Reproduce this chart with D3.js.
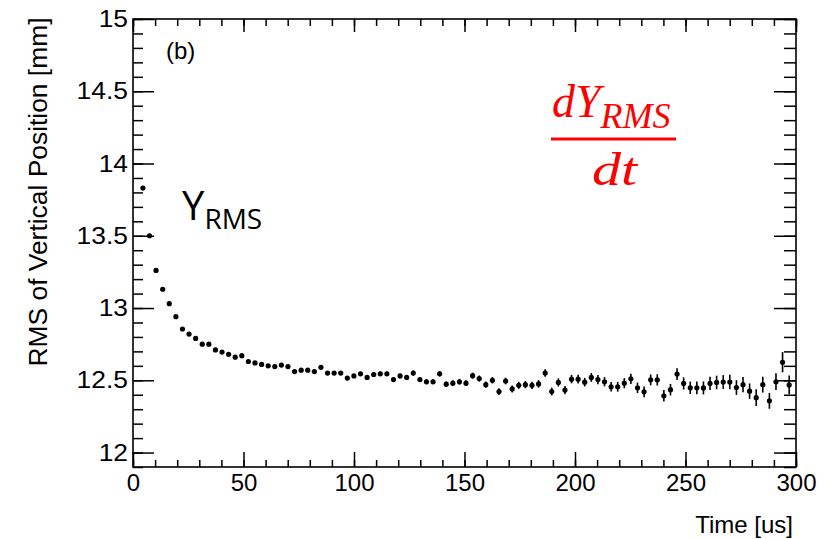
<!DOCTYPE html>
<html><head><meta charset="utf-8">
<script src="https://cdn.jsdelivr.net/npm/d3@7/dist/d3.min.js"></script>
<style>body{margin:0;background:#fff}</style>
</head><body>
<svg id="c" width="838" height="539"></svg>
<script>
// bin centres [us]
const times = [4.48,7.46,10.44,13.43,16.41,19.40,22.38,25.36,28.35,31.33,
  34.32,37.30,40.28,43.27,46.25,49.24,52.22,55.20,58.19,61.17,
  64.16,67.14,70.12,73.11,76.09,79.08,82.06,85.04,88.03,91.01,
  94.00,96.98,99.96,102.95,105.93,108.92,111.90,114.88,117.87,120.85,
  123.84,126.82,129.80,132.79,135.77,138.76,141.74,144.72,147.71,150.69,
  153.68,156.66,159.64,162.63,165.61,168.60,171.58,174.56,177.55,180.53,
  183.52,186.50,189.48,192.47,195.45,198.44,201.42,204.40,207.39,210.37,
  213.36,216.34,219.32,222.31,225.29,228.28,231.26,234.24,237.23,240.21,
  243.20,246.18,249.16,252.15,255.13,258.12,261.10,264.08,267.07,270.05,
  273.04,276.02,279.00,281.99,284.97,287.96,290.94,293.92,296.91];
// RMS of vertical position [mm]
const rmsValues = [13.83,13.50,13.26,13.13,13.03,12.94,12.855,12.82,12.79,12.75,
  12.75,12.71,12.695,12.68,12.66,12.67,12.63,12.62,12.61,12.60,
  12.595,12.605,12.595,12.56,12.57,12.57,12.56,12.59,12.55,12.55,
  12.55,12.515,12.53,12.545,12.52,12.54,12.545,12.545,12.505,12.53,
  12.52,12.55,12.505,12.49,12.49,12.545,12.473,12.48,12.49,12.48,
  12.532,12.512,12.47,12.50,12.422,12.495,12.44,12.465,12.47,12.465,
  12.475,12.55,12.422,12.485,12.432,12.508,12.508,12.487,12.52,12.505,
  12.49,12.455,12.455,12.48,12.51,12.448,12.42,12.503,12.503,12.393,
  12.435,12.543,12.478,12.448,12.448,12.447,12.478,12.485,12.488,12.488,
  12.45,12.47,12.425,12.38,12.47,12.358,12.49,12.625,12.468];
// error on RMS [mm]
const rmsErrors = [0.007,0.007,0.007,0.007,0.007,0.008,0.008,0.008,0.008,0.008,
  0.008,0.009,0.009,0.009,0.009,0.009,0.010,0.010,0.010,0.010,
  0.011,0.011,0.011,0.011,0.012,0.012,0.012,0.012,0.013,0.013,
  0.013,0.014,0.014,0.014,0.014,0.015,0.015,0.015,0.016,0.016,
  0.017,0.017,0.017,0.018,0.018,0.018,0.019,0.019,0.020,0.020,
  0.021,0.021,0.022,0.022,0.023,0.023,0.024,0.024,0.025,0.025,
  0.026,0.026,0.027,0.028,0.028,0.029,0.030,0.030,0.031,0.032,
  0.032,0.033,0.034,0.035,0.035,0.036,0.037,0.038,0.039,0.040,
  0.040,0.041,0.042,0.043,0.044,0.045,0.046,0.047,0.048,0.050,
  0.051,0.052,0.053,0.058,0.055,0.055,0.058,0.070,0.065];
const xTicks = [0,50,100,150,200,250,300];
const xTickLabels = ["0","50","100","150","200","250","300"];
const yTicks = [12,12.5,13,13.5,14,14.5,15];
const yTickLabels = ["12","12.5","13","13.5","14","14.5","15"];
const xMinorTicks = d3.range(0, 301, 10);
const yMinorTicks = d3.range(119, 151, 1).map(v => v / 10);
const yTitle = "RMS of Vertical Position [mm]";
const xTitle = "Time [us]";
const panelLabel = "(b)";

const svg = d3.select("#c");
svg.append("rect").attr("width",838).attr("height",539).attr("fill","#fff");
const L=133, R=796, T=19, B=467;
const x = d3.scaleLinear().domain([0,300]).range([L,R]);
const y = d3.scaleLinear().domain([11.9,15]).range([B,T]);
const font = "'Liberation Sans', Arial, sans-serif";

function strip(g){ g.select(".domain").remove(); g.selectAll("line").attr("stroke","#000").attr("stroke-width",1.5); }

// bottom
svg.append("g").attr("transform",`translate(0,${B})`)
  .call(d3.axisBottom(x).tickValues(xMinorTicks).tickSize(-7).tickFormat("")).call(strip);
const gx = svg.append("g").attr("transform",`translate(0,${B})`)
  .call(d3.axisBottom(x).tickValues(xTicks).tickSize(-15).tickPadding(7)
    .tickFormat((d,i)=>xTickLabels[i])).call(strip);
gx.selectAll("text").attr("font-family",font).attr("font-size",24).attr("fill","#000");
// top
svg.append("g").attr("transform",`translate(0,${T})`)
  .call(d3.axisTop(x).tickValues(xMinorTicks).tickSize(-7).tickFormat("")).call(strip);
svg.append("g").attr("transform",`translate(0,${T})`)
  .call(d3.axisTop(x).tickValues(xTicks).tickSize(-13).tickFormat("")).call(strip);
// left
svg.append("g").attr("transform",`translate(${L},0)`)
  .call(d3.axisLeft(y).tickValues(yMinorTicks).tickSize(-10).tickFormat("")).call(strip);
const gy = svg.append("g").attr("transform",`translate(${L},0)`)
  .call(d3.axisLeft(y).tickValues(yTicks).tickSize(-21).tickPadding(5)
    .tickFormat((d,i)=>yTickLabels[i])).call(strip);
gy.selectAll("text").attr("font-family",font).attr("font-size",24).attr("fill","#000")
  .each(function(){ const w=this.getComputedTextLength();
    d3.select(this).attr("textLength",w*1.1).attr("lengthAdjust","spacingAndGlyphs"); });
// right
svg.append("g").attr("transform",`translate(${R},0)`)
  .call(d3.axisRight(y).tickValues(yMinorTicks).tickSize(-12).tickFormat("")).call(strip);
svg.append("g").attr("transform",`translate(${R},0)`)
  .call(d3.axisRight(y).tickValues(yTicks).tickSize(-22).tickFormat("")).call(strip);

// frame
svg.append("rect").attr("x",L).attr("y",T).attr("width",R-L).attr("height",B-T)
  .attr("fill","none").attr("stroke","#000").attr("stroke-width",1.6);

// data
const pts = times.map((t,i)=>({t, v:rmsValues[i], e:rmsErrors[i]}));
const gd = svg.append("g");
gd.selectAll("line.err").data(pts).join("line").attr("class","err")
  .attr("x1",d=>x(d.t)).attr("x2",d=>x(d.t))
  .attr("y1",d=>y(d.v-d.e)).attr("y2",d=>y(d.v+d.e))
  .attr("stroke","#000").attr("stroke-width",1.6);
gd.selectAll("circle").data(pts).join("circle")
  .attr("cx",d=>x(d.t)).attr("cy",d=>y(d.v)).attr("r",2.6).attr("fill","#000");

// titles
svg.append("text").attr("transform","translate(47,192) rotate(-90)")
  .attr("text-anchor","middle").attr("font-family",font).attr("font-size",26)
  .attr("textLength",349).attr("lengthAdjust","spacingAndGlyphs").text(yTitle);
svg.append("text").attr("x",793).attr("y",533).attr("text-anchor","end")
  .attr("font-family",font).attr("font-size",24).text(xTitle);
svg.append("text").attr("x",166).attr("y",59).attr("font-family",font)
  .attr("font-size",24).text(panelLabel);

// annotations
const yr = svg.append("text").attr("x",182).attr("y",220)
  .attr("font-family","'Open Sans', sans-serif").attr("font-size",40).attr("fill","#000");
yr.append("tspan").text("Y");
yr.append("tspan").attr("font-size",28).attr("dy",9).text("RMS");

const serif = "'Liberation Serif', 'Times New Roman', serif";
const num = svg.append("text").attr("x",552).attr("y",117).attr("font-family",serif)
  .attr("font-style","italic").attr("font-size",46).attr("fill","#ff0000");
num.append("tspan").text("dY");
num.append("tspan").attr("font-size",36).attr("dy",11).text("RMS");
svg.append("rect").attr("x",551).attr("y",137.5).attr("width",125).attr("height",3).attr("fill","#ff0000");
svg.append("text").attr("x",592).attr("y",185).attr("font-family",serif)
  .attr("font-style","italic").attr("font-size",46).attr("fill","#ff0000")
  .attr("textLength",45).attr("lengthAdjust","spacingAndGlyphs").text("dt");
</script>
</body></html>
